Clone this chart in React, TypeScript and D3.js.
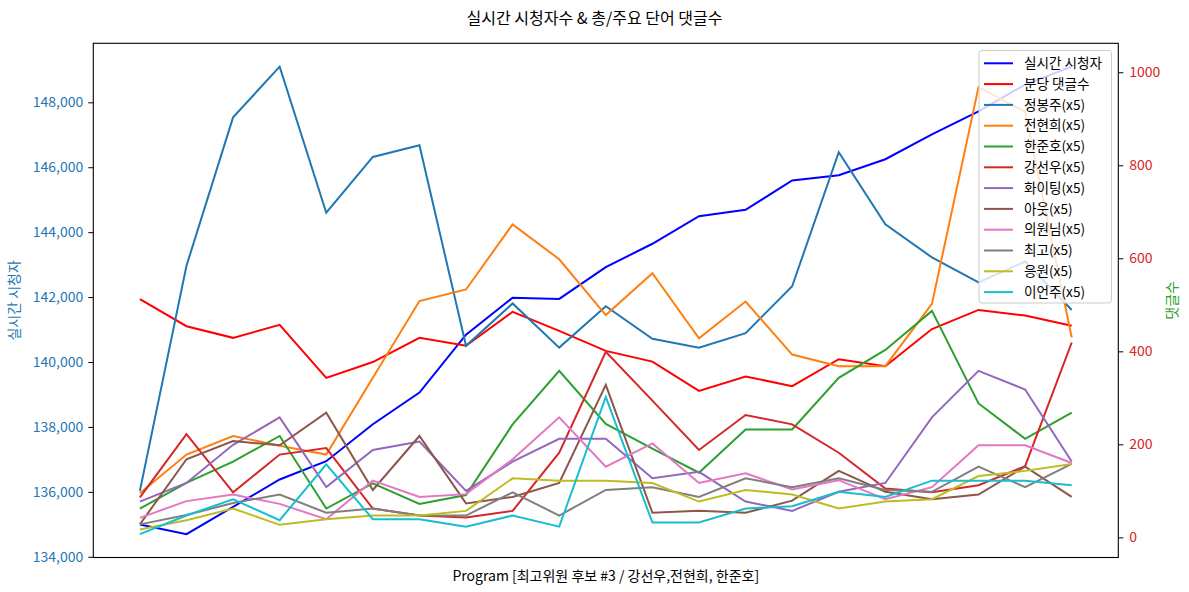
import React, { useEffect, useRef } from "react";
import * as d3 from "d3";

// 실시간 시청자 (left axis)
const viewers = [
  134996, 134698, 135538, 136381, 136944, 138083, 139058, 140843, 141981, 141944,
  142923, 143643, 144492, 144689, 145591, 145754, 146246, 147015, 147723, 148545, 149098,
];

// right axis series
const perMinute = [512, 454, 429, 457, 343, 377, 429, 412, 485, 444, 401, 378, 315, 346, 325, 383, 368, 448, 489, 477, 455];
const jung = [100, 584, 903, 1012, 698, 818, 843, 412, 503, 408, 497, 427, 408, 439, 540, 828, 673, 602, 548, 593, 489];
const jeon = [95, 178, 218, 197, 178, 343, 508, 533, 673, 598, 478, 568, 428, 507, 393, 368, 368, 502, 968, 915, 430];
const han = [62, 117, 163, 218, 62, 116, 72, 91, 243, 358, 244, 191, 139, 232, 232, 343, 403, 487, 288, 212, 268];
const kang = [86, 222, 97, 178, 192, 62, 47, 43, 57, 182, 399, 294, 188, 263, 243, 182, 105, 97, 112, 153, 419];
const fighting = [77, 117, 199, 258, 108, 188, 206, 100, 163, 212, 212, 127, 141, 77, 57, 98, 117, 258, 358, 318, 163];
const out = [28, 168, 207, 198, 268, 102, 218, 73, 87, 117, 328, 53, 57, 53, 79, 143, 98, 82, 92, 152, 87];
const member = [42, 78, 92, 72, 39, 122, 87, 93, 168, 258, 152, 202, 117, 138, 103, 123, 82, 108, 198, 198, 160];
const best = [28, 48, 74, 92, 53, 62, 47, 47, 97, 47, 102, 108, 87, 127, 108, 127, 102, 98, 152, 108, 158];
const cheer = [17, 37, 62, 27, 39, 47, 47, 57, 127, 122, 122, 117, 77, 102, 92, 62, 77, 82, 132, 143, 158];
const lee = [7, 47, 82, 37, 157, 39, 39, 23, 47, 23, 302, 32, 32, 62, 67, 98, 87, 122, 122, 122, 112];

const rightSeries = [perMinute, jung, jeon, han, kang, fighting, out, member, best, cheer, lee];
const rightNames = [
  "분당 댓글수", "정봉주(x5)", "전현희(x5)", "한준호(x5)", "강선우(x5)", "화이팅(x5)",
  "아웃(x5)", "의원님(x5)", "최고(x5)", "응원(x5)", "이언주(x5)",
];
const rightColors = [
  "#ff0000", "#1f77b4", "#ff7f0e", "#2ca02c", "#d62728", "#9467bd",
  "#8c564b", "#e377c2", "#7f7f7f", "#bcbd22", "#17becf",
];

const leftTicks = d3.range(134000, 148001, 2000);
const rightTicks = [0, 200, 400, 600, 800, 1000];

const FONT = '"Noto Sans CJK KR", "Noto Sans", sans-serif';

function padded(vals: number[]): [number, number] {
  const lo = d3.min(vals)!;
  const hi = d3.max(vals)!;
  const p = (hi - lo) * 0.05;
  return [lo - p, hi + p];
}

export default function App() {
  const width = 1189;
  const height = 592;
  const left = 93.3, right = 1118.3, top = 43.3, bottom = 557.5;

  const n = viewers.length;
  const x = d3.scaleLinear().domain([-(n - 1) * 0.05, (n - 1) * 1.05]).range([left, right]);
  const yL = d3.scaleLinear().domain(padded(viewers)).range([bottom, top]);
  const yR = d3.scaleLinear().domain(padded(rightSeries.flat())).range([bottom, top]);

  const lineL = d3.line<number>().x((_, i) => x(i)).y((d) => yL(d));
  const lineR = d3.line<number>().x((_, i) => x(i)).y((d) => yR(d));

  const leftRef = useRef<SVGGElement>(null);
  const rightRef = useRef<SVGGElement>(null);

  useEffect(() => {
    if (leftRef.current) {
      const g = d3.select(leftRef.current);
      g.call(d3.axisLeft(yL).tickValues(leftTicks).tickFormat(d3.format(",")).tickSize(5).tickPadding(5));
      g.select(".domain").remove();
      g.selectAll("line").attr("stroke", "#000");
      g.selectAll("text").attr("fill", "#1f77b4").style("font-size", "14px").style("font-family", FONT);
    }
    if (rightRef.current) {
      const g = d3.select(rightRef.current);
      g.call(d3.axisRight(yR).tickValues(rightTicks).tickFormat(d3.format("d")).tickSize(5).tickPadding(6));
      g.select(".domain").remove();
      g.selectAll("line").attr("stroke", "#000");
      g.selectAll("text").attr("fill", "#d62728").style("font-size", "14px").style("font-family", FONT);
    }
  }, []);

  const legendNames = ["실시간 시청자", ...rightNames];
  const legendColors = ["#0000ff", ...rightColors];
  const lgX = 979, lgY = 50.5, lgW = 132.5, lgH = 252.5, rowH = 20.8;

  return (
    <svg width={width} height={height} style={{ position: "absolute", left: 0, top: 0, background: "#fff" }}>
      <rect x={0} y={0} width={width} height={height} fill="#fff" />
      <text x={width / 2} y={24} textAnchor="middle" fontSize={16} fontFamily={FONT} fill="#000">
        실시간 시청자수 &amp; 총/주요 단어 댓글수
      </text>

      <path d={lineL(viewers) ?? ""} fill="none" stroke="#0000ff" strokeWidth={2} />
      {rightSeries.map((s, k) => (
        <path key={rightNames[k]} d={lineR(s) ?? ""} fill="none" stroke={rightColors[k]} strokeWidth={2} />
      ))}

      <rect x={left} y={top} width={right - left} height={bottom - top} fill="none" stroke="#000" strokeWidth={1.1} />
      <g ref={leftRef} transform={`translate(${left},0)`} />
      <g ref={rightRef} transform={`translate(${right},0)`} />

      <text
        transform={`translate(19,${(top + bottom) / 2}) rotate(-90)`}
        textAnchor="middle"
        fontSize={14}
        fontFamily={FONT}
        fill="#1f77b4"
      >
        실시간 시청자
      </text>
      <text
        transform={`translate(1177,${(top + bottom) / 2}) rotate(-90)`}
        textAnchor="middle"
        fontSize={14}
        fontFamily={FONT}
        fill="#2ca02c"
      >
        댓글수
      </text>
      <text x={(left + right) / 2} y={581} textAnchor="middle" fontSize={14} fontFamily={FONT} fill="#000">
        Program [최고위원 후보 #3 / 강선우,전현희, 한준호]
      </text>

      <g>
        <rect x={lgX} y={lgY} width={lgW} height={lgH} rx={3} fill="#fff" fillOpacity={0.8} stroke="#cccccc" strokeWidth={1} />
        {legendNames.map((name, i) => {
          const cy = 63.3 + i * rowH;
          return (
            <g key={name}>
              <line x1={984} x2={1013} y1={cy} y2={cy} stroke={legendColors[i]} strokeWidth={2} />
              <text x={1024} y={cy} dy="0.35em" fontSize={13.6} fontFamily={FONT} fill="#000">
                {name}
              </text>
            </g>
          );
        })}
      </g>
    </svg>
  );
}
